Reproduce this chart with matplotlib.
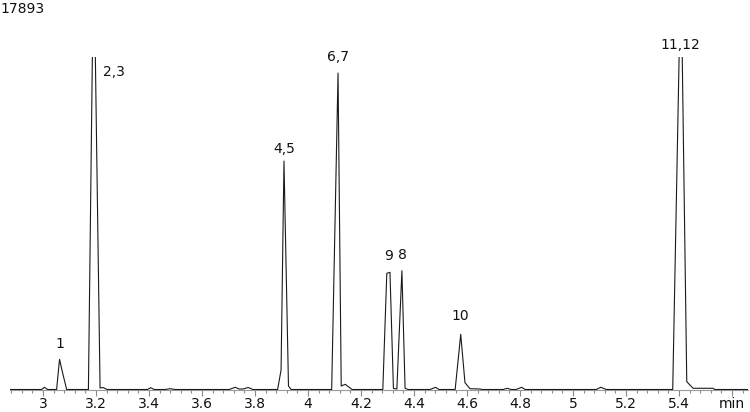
#!/usr/bin/env python3
"""Chromatogram trace with labelled peaks."""

import numpy as np
import matplotlib.pyplot as plt
from matplotlib.ticker import MultipleLocator

# trace vertices (retention time in min, signal in counts)
time = [2.875, 2.994, 3.005, 3.017, 3.051, 3.062, 3.074, 3.089,
        3.171, 3.191, 3.215, 3.226, 3.242,
        3.394, 3.406, 3.419, 3.460, 3.479, 3.498,
        3.702, 3.725, 3.740, 3.755, 3.774, 3.792,
        3.885, 3.898, 3.909, 3.926, 3.936,
        4.089, 4.113, 4.125, 4.140, 4.166,
        4.282, 4.297, 4.309, 4.322, 4.335, 4.354, 4.366, 4.378,
        4.460, 4.481, 4.494,
        4.555, 4.576, 4.592, 4.611, 4.649, 4.657,
        4.736, 4.751, 4.766, 4.785, 4.806, 4.819,
        5.087, 5.105, 5.125,
        5.376, 5.407, 5.429, 5.453, 5.529, 5.534, 5.660]
signal = [0, 0, 118, 0, 0, 1625, 872, 0,
          0, 24065, 80, 108, 0,
          0, 97, 0, 0, 43, 0,
          0, 118, 27, 27, 108, 0,
          0, 1049, 12293, 188, 0,
          0, 17028, 188, 280, 0,
          0, 6252, 6305, 54, 27, 6391, 65, 0,
          0, 118, 0,
          0, 2970, 366, 43, 27, 0,
          0, 65, 0, 0, 118, 0,
          0, 118, 0,
          0, 22980, 420, 65, 65, 0, 0]

full_scale = 17893

peak_names = ["1", "2,3", "4,5", "6,7", "9", "8", "10", "11,12"]
peak_label_t = [3.062, 3.226, 3.909, 4.113, 4.304, 4.357, 4.574, 5.405]
peak_label_y = [2233, 16866, 12724, 17673, 6967, 7021, 3739, 18319]

tick_vals = [3.0, 3.2, 3.4, 3.6, 3.8, 4.0, 4.2, 4.4, 4.6, 4.8, 5.0, 5.2, 5.4, 5.6]
tick_text = ["3", "3.2", "3.4", "3.6", "3.8", "4", "4.2", "4.4", "4.6",
             "4.8", "5", "5.2", "5.4", "min"]


def main():
    plt.rcParams["font.family"] = "DejaVu Sans"
    fig = plt.figure(figsize=(7.5, 4.12), dpi=100)
    ax = fig.add_axes([0.0133, 0.0546, 0.984, 0.8071])

    ax.plot(time, signal, color="#1a1a1a", lw=0.8, zorder=3)
    ax.set_xlim(2.875, 5.660)
    ax.set_ylim(0, full_scale)

    for s in ["top", "left", "right"]:
        ax.spines[s].set_visible(False)
    ax.spines["bottom"].set_color("#999999")
    ax.spines["bottom"].set_linewidth(0.8)
    ax.set_yticks([])

    ax.set_xticks(tick_vals)
    ax.set_xticklabels(tick_text)
    ax.xaxis.set_minor_locator(MultipleLocator(0.04))
    ax.tick_params(axis="x", which="major", length=4.5, width=0.8,
                   color="#888888", labelsize=10, pad=1, labelcolor="#111111")
    ax.tick_params(axis="x", which="minor", length=2.2, width=0.8,
                   color="#888888")

    for name, t, y in zip(peak_names, peak_label_t, peak_label_y):
        ha = "left" if name == "2,3" else "center"
        ax.text(t, y, name, ha=ha, va="baseline", fontsize=10,
                color="#111111", clip_on=False)

    fig.text(0.0, 1 - 2 / 412, str(full_scale), ha="left", va="top",
             fontsize=10, color="#111111")

    fig.savefig("out.png", dpi=100)


if __name__ == "__main__":
    main()
